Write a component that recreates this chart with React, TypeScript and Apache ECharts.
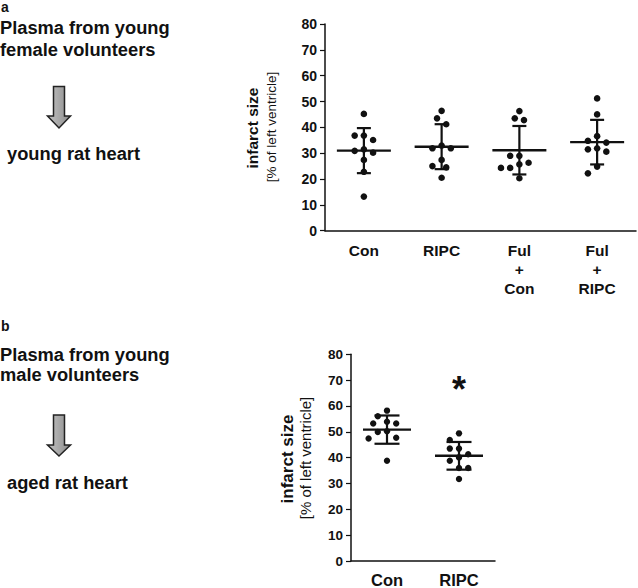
import React, { useEffect, useRef } from "react";
import * as echarts from "echarts";

// ---------- data ----------
const categoriesA = ["Con", "RIPC", "Ful\n+\nCon", "Ful\n+\nRIPC"];
const conA = [45.2, 36.8, 36.8, 35.1, 31.5, 30.9, 30.2, 27.4, 22.8, 13.2];
const ripcA = [46.4, 43.5, 41.2, 32.9, 31.9, 31.9, 27.4, 25.0, 24.5, 20.5];
const fulConA = [46.3, 43.5, 42.8, 29.0, 29.0, 26.3, 25.7, 24.3, 24.3, 20.3];
const fulRipcA = [51.2, 45.0, 36.6, 34.8, 34.1, 31.9, 31.5, 30.6, 24.8, 22.2];

const categoriesB = ["Con", "RIPC"];
const conB = [58.2, 56.0, 53.9, 53.2, 53.2, 50.2, 49.9, 47.7, 47.4, 38.8];
const ripcB = [49.4, 46.8, 43.5, 43.5, 41.3, 40.1, 38.8, 36.0, 36.0, 31.7];

const yTicks = [0, 10, 20, 30, 40, 50, 60, 70, 80];
const significanceB = [[1, 69.5]]; // "*" above RIPC

const FONT = "'Liberation Sans', Arial, Helvetica, sans-serif";

function meanSd(v: number[]) {
  const m = v.reduce((a, b) => a + b, 0) / v.length;
  const s = Math.sqrt(v.reduce((a, b) => a + (b - m) * (b - m), 0) / (v.length - 1));
  return { m, s };
}

function makeRender(groups: number[][], r: number, meanHalf: number, capHalf: number) {
  return (params: any, api: any) => {
    const cat = api.value(0);
    const vals = groups[params.dataIndex];
    const cx = api.coord([cat, 0])[0];
    const step = 4.6;
    const minD = 8.5;
    const placed: { x: number; y: number }[] = [];
    vals.forEach((v) => {
      const y = api.coord([cat, v])[1];
      for (let k = 0; k < 20; k++) {
        const mag = Math.ceil(k / 2) * step;
        const off = k === 0 ? 0 : k % 2 === 1 ? -mag : mag;
        const ok = placed.every((p) => Math.hypot(p.x - (cx + off), p.y - y) >= minD);
        if (ok) {
          placed.push({ x: cx + off, y });
          break;
        }
      }
    });
    const { m, s } = meanSd(vals);
    const ym = api.coord([cat, m])[1];
    const yt = api.coord([cat, m + s])[1];
    const yb = api.coord([cat, m - s])[1];
    const ls = { stroke: "#111", lineWidth: 2.2 };
    const children: any[] = placed.map((p) => ({
      type: "circle",
      shape: { cx: p.x, cy: p.y, r },
      style: { fill: "#111" },
      z2: 5,
    }));
    children.push(
      { type: "line", shape: { x1: cx - meanHalf, y1: ym, x2: cx + meanHalf, y2: ym }, style: { stroke: "#111", lineWidth: 2.4 } },
      { type: "line", shape: { x1: cx, y1: yt, x2: cx, y2: yb }, style: ls },
      { type: "line", shape: { x1: cx - capHalf, y1: yt, x2: cx + capHalf, y2: yt }, style: ls },
      { type: "line", shape: { x1: cx - capHalf, y1: yb, x2: cx + capHalf, y2: yb }, style: ls }
    );
    return { type: "group", children };
  };
}

function renderStar(params: any, api: any) {
  const p = api.coord([api.value(0), api.value(1)]);
  return {
    type: "text",
    x: p[0],
    y: p[1] + 8,
    style: {
      text: "*",
      fill: "#111",
      font: `bold 36px ${FONT}`,
      align: "center",
      verticalAlign: "middle",
    },
  };
}

function yAxisCfg(gridIndex: number, fs: number) {
  return {
    type: "value",
    gridIndex,
    min: 0,
    max: 80,
    interval: 10,
    axisLine: { show: true, lineStyle: { color: "#111", width: 1.5 } },
    axisTick: { show: true, length: 5, lineStyle: { color: "#111", width: 1.2 } },
    axisLabel: {
      color: "#111",
      fontWeight: "bold",
      fontSize: fs,
      fontFamily: FONT,
      margin: 8,
      formatter: (v: number) => (yTicks.includes(v) ? String(v) : ""),
    },
    splitLine: { show: false },
  };
}

function arrow(top: number, headTop: number, tip: number) {
  return {
    type: "polygon",
    shape: {
      points: [
        [53.5, top],
        [64.5, top],
        [64.5, headTop],
        [70.5, headTop],
        [59, tip],
        [47.5, headTop],
        [53.5, headTop],
      ],
    },
    style: {
      fill: new echarts.graphic.LinearGradient(0, 0, 1, 0, [
        { offset: 0, color: "#c4c4c4" },
        { offset: 1, color: "#8c8c8c" },
      ]),
      stroke: "#222",
      lineWidth: 1.5,
    },
  };
}

function txt(text: string, x: number, y: number, fs: number, bold = true, extra: any = {}) {
  return {
    type: "text",
    x,
    y,
    ...extra,
    style: {
      text,
      fill: "#111",
      font: `${bold ? "bold " : ""}${fs}px ${FONT}`,
      align: extra.align || "left",
      verticalAlign: "middle",
    },
  };
}

export default function App() {
  const ref = useRef<HTMLDivElement>(null);
  useEffect(() => {
    if (!ref.current) return;
    const chart = echarts.init(ref.current, undefined, { renderer: "svg" });
    const groupsA = [conA, ripcA, fulConA, fulRipcA];
    const groupsB = [conB, ripcB];
    chart.setOption({
      animation: false,
      backgroundColor: "#fff",
      grid: [
        { left: 325, top: 24, width: 311, height: 206.7 },
        { left: 351, top: 354.3, width: 144, height: 208.4 },
      ],
      xAxis: [
        {
          type: "category",
          gridIndex: 0,
          data: categoriesA,
          axisLine: { show: true, lineStyle: { color: "#111", width: 1.5 } },
          axisTick: { show: false },
          axisLabel: { color: "#111", fontWeight: "bold", fontSize: 15.5, fontFamily: FONT, lineHeight: 19, margin: 10, interval: 0 },
        },
        {
          type: "category",
          gridIndex: 1,
          data: categoriesB,
          axisLine: { show: true, lineStyle: { color: "#111", width: 1.5 } },
          axisTick: { show: false },
          axisLabel: { color: "#111", fontWeight: "bold", fontSize: 16.5, fontFamily: FONT, margin: 10, interval: 0 },
        },
      ],
      yAxis: [yAxisCfg(0, 14), yAxisCfg(1, 13.5)],
      series: [
        {
          type: "custom",
          xAxisIndex: 0,
          yAxisIndex: 0,
          data: groupsA.map((g, i) => [i, meanSd(g).m]),
          renderItem: makeRender(groupsA, 3.3, 27, 7),
        },
        {
          type: "custom",
          xAxisIndex: 1,
          yAxisIndex: 1,
          data: groupsB.map((g, i) => [i, meanSd(g).m]),
          renderItem: makeRender(groupsB, 3.2, 24, 12.5),
        },
        {
          type: "custom",
          xAxisIndex: 1,
          yAxisIndex: 1,
          data: significanceB,
          renderItem: renderStar,
        },
      ],
      graphic: [
        txt("a", 1, 7, 14),
        txt("Plasma from young", 0, 27, 18.3),
        txt("female volunteers", 0, 49, 18.3),
        arrow(86.5, 116, 128),
        txt("young rat heart", 7, 153.5, 18.3),
        txt("b", 1, 326, 14),
        txt("Plasma from young", 0, 354, 18.3),
        txt("male volunteers", 0, 374, 18.3),
        arrow(415, 445, 456),
        txt("aged rat heart", 7, 482, 18.3),
        txt("infarct size", 252, 128, 15.5, true, { rotation: Math.PI / 2, align: "center" }),
        txt("[% of left ventricle]", 271, 127, 13.5, false, { rotation: Math.PI / 2, align: "center" }),
        txt("infarct size", 287, 459, 17, true, { rotation: Math.PI / 2, align: "center" }),
        txt("[% of left ventricle]", 305, 458, 15, false, { rotation: Math.PI / 2, align: "center" }),
      ],
    });
    return () => chart.dispose();
  }, []);
  return <div ref={ref} style={{ position: "absolute", left: 0, top: 0, width: 638, height: 588 }} />;
}
